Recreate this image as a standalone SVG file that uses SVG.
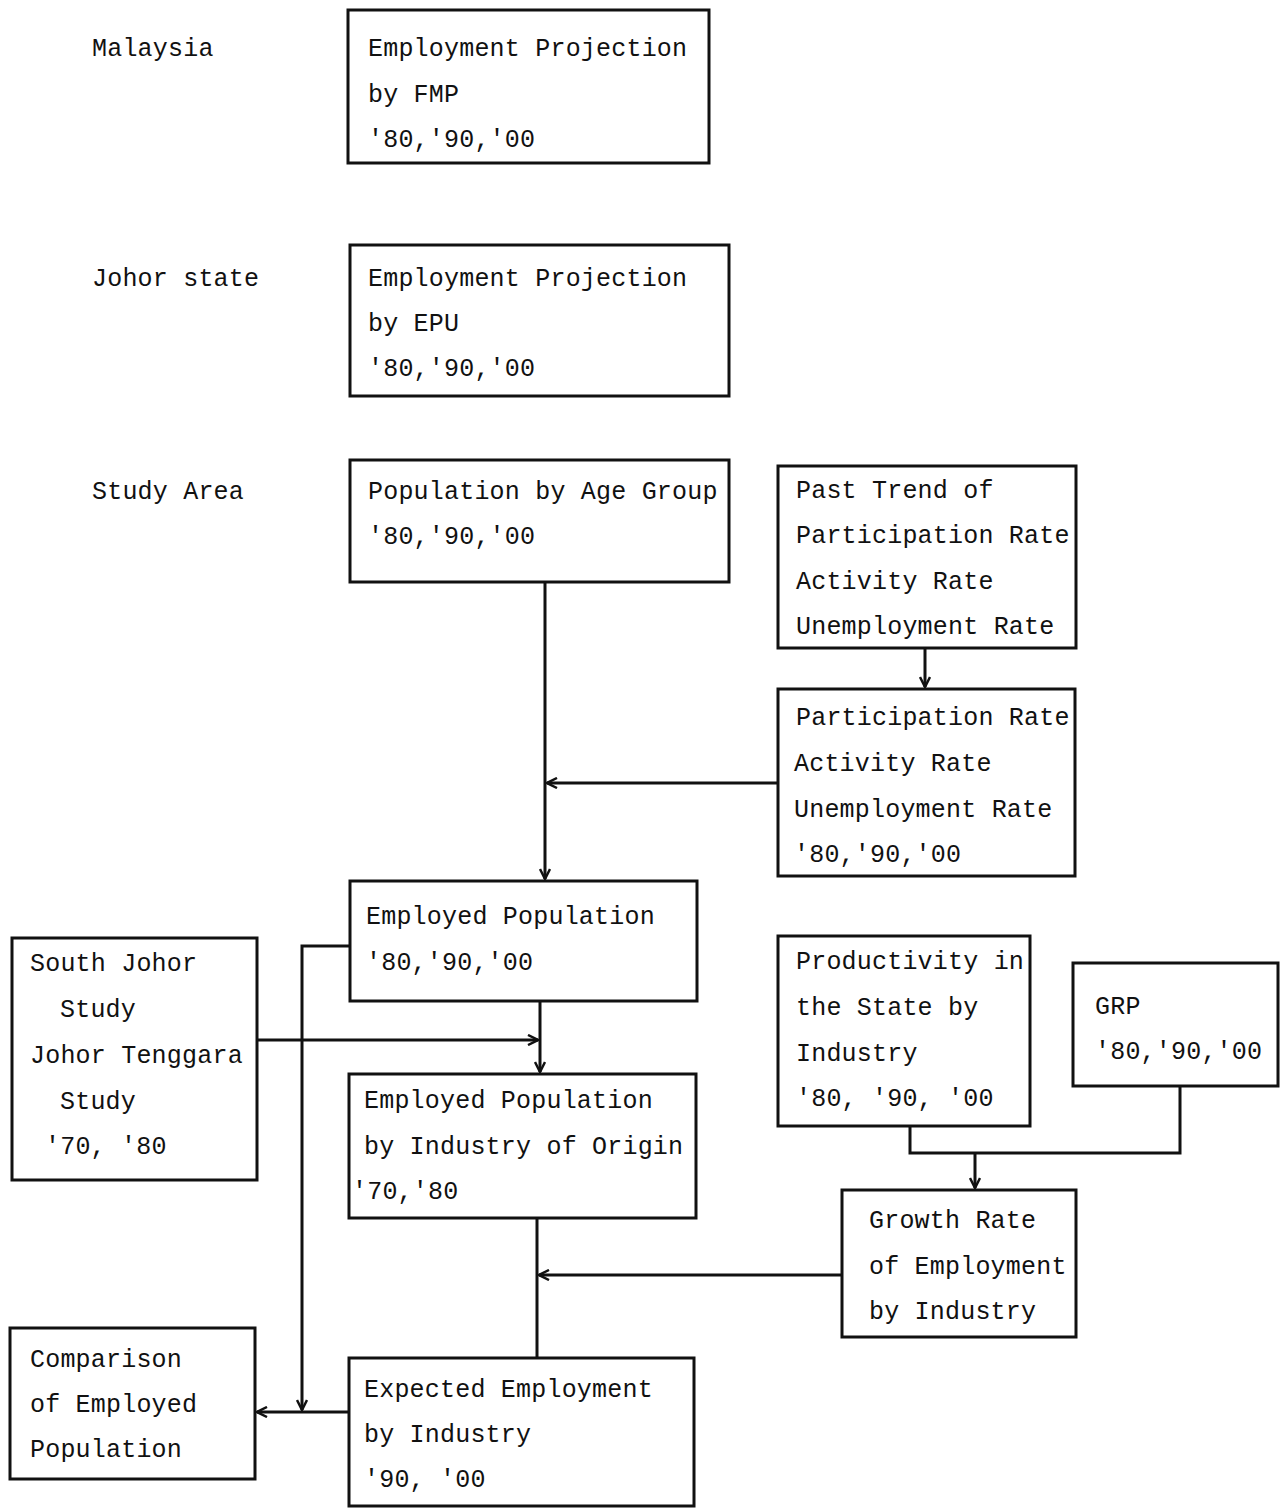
<svg xmlns="http://www.w3.org/2000/svg" width="1280" height="1510" viewBox="0 0 1280 1510">
<style>
text{font-family:"Liberation Mono","DejaVu Sans Mono",monospace;font-size:25px;letter-spacing:0.2px;fill:#111}
.box{fill:#fff;stroke:#111;stroke-width:3}
.ln{fill:none;stroke:#111;stroke-width:3}
</style>
<defs>
<marker id="ah" viewBox="0 0 12 12" refX="11" refY="6" markerWidth="12" markerHeight="12" markerUnits="userSpaceOnUse" orient="auto">
<polyline points="1,1 11,6 1,11" fill="none" stroke="#111" stroke-width="2.5"/>
</marker>
</defs>
<rect width="1280" height="1510" fill="#fff"/>
<g id="labels">
<text x="92" y="56">Malaysia</text>
<text x="92" y="286">Johor state</text>
<text x="92" y="499">Study Area</text>
</g>
<g id="connectors">
<line class="ln" x1="545" y1="582" x2="545" y2="879" marker-end="url(#ah)"/>
<line class="ln" x1="778" y1="783" x2="547" y2="783" marker-end="url(#ah)"/>
<line class="ln" x1="925" y1="648" x2="925" y2="687" marker-end="url(#ah)"/>
<line class="ln" x1="540" y1="1001" x2="540" y2="1072" marker-end="url(#ah)"/>
<line class="ln" x1="257" y1="1040" x2="538" y2="1040" marker-end="url(#ah)"/>
<polyline class="ln" points="350,946 302,946 302,1410" marker-end="url(#ah)"/>
<line class="ln" x1="349" y1="1412" x2="257" y2="1412" marker-end="url(#ah)"/>
<line class="ln" x1="537" y1="1218" x2="537" y2="1358"/>
<line class="ln" x1="842" y1="1275" x2="539" y2="1275" marker-end="url(#ah)"/>
<polyline class="ln" points="910,1126 910,1153 1180,1153 1180,1086"/>
<line class="ln" x1="975" y1="1153" x2="975" y2="1188" marker-end="url(#ah)"/>
</g>
<g id="n1">
<rect class="box" x="348" y="10" width="361" height="153"/>
<text x="368" y="56">Employment Projection</text>
<text x="368" y="102">by FMP</text>
<text x="368" y="147">'80,'90,'00</text>
</g>
<g id="n2">
<rect class="box" x="350" y="245" width="379" height="151"/>
<text x="368" y="286">Employment Projection</text>
<text x="368" y="331">by EPU</text>
<text x="368" y="376">'80,'90,'00</text>
</g>
<g id="n3">
<rect class="box" x="350" y="460" width="379" height="122"/>
<text x="368" y="499">Population by Age Group</text>
<text x="368" y="544">'80,'90,'00</text>
</g>
<g id="n4">
<rect class="box" x="778" y="466" width="298" height="182"/>
<text x="796" y="498">Past Trend of</text>
<text x="796" y="543">Participation Rate</text>
<text x="796" y="589">Activity Rate</text>
<text x="796" y="634">Unemployment Rate</text>
</g>
<g id="n5">
<rect class="box" x="778" y="689" width="297" height="187"/>
<text x="796" y="725">Participation Rate</text>
<text x="794" y="771">Activity Rate</text>
<text x="794" y="817">Unemployment Rate</text>
<text x="794" y="862">'80,'90,'00</text>
</g>
<g id="n6">
<rect class="box" x="350" y="881" width="347" height="120"/>
<text x="366" y="924">Employed Population</text>
<text x="366" y="970">'80,'90,'00</text>
</g>
<g id="n7">
<rect class="box" x="12" y="938" width="245" height="242"/>
<text x="30" y="971">South Johor</text>
<text x="60" y="1017">Study</text>
<text x="30" y="1063">Johor Tenggara</text>
<text x="60" y="1109">Study</text>
<text x="45" y="1154">'70, '80</text>
</g>
<g id="n8">
<rect class="box" x="349" y="1074" width="347" height="144"/>
<text x="364" y="1108">Employed Population</text>
<text x="364" y="1154">by Industry of Origin</text>
<text x="352" y="1199">'70,'80</text>
</g>
<g id="n9">
<rect class="box" x="778" y="936" width="252" height="190"/>
<text x="796" y="969">Productivity in</text>
<text x="796" y="1015">the State by</text>
<text x="796" y="1061">Industry</text>
<text x="796" y="1106">'80, '90, '00</text>
</g>
<g id="n10">
<rect class="box" x="1073" y="963" width="205" height="123"/>
<text x="1095" y="1014">GRP</text>
<text x="1095" y="1059">'80,'90,'00</text>
</g>
<g id="n11">
<rect class="box" x="842" y="1190" width="234" height="147"/>
<text x="869" y="1228">Growth Rate</text>
<text x="869" y="1274">of Employment</text>
<text x="869" y="1319">by Industry</text>
</g>
<g id="n12">
<rect class="box" x="10" y="1328" width="245" height="151"/>
<text x="30" y="1367">Comparison</text>
<text x="30" y="1412">of Employed</text>
<text x="30" y="1457">Population</text>
</g>
<g id="n13">
<rect class="box" x="349" y="1358" width="345" height="148"/>
<text x="364" y="1397">Expected Employment</text>
<text x="364" y="1442">by Industry</text>
<text x="364" y="1487">'90, '00</text>
</g>
</svg>
